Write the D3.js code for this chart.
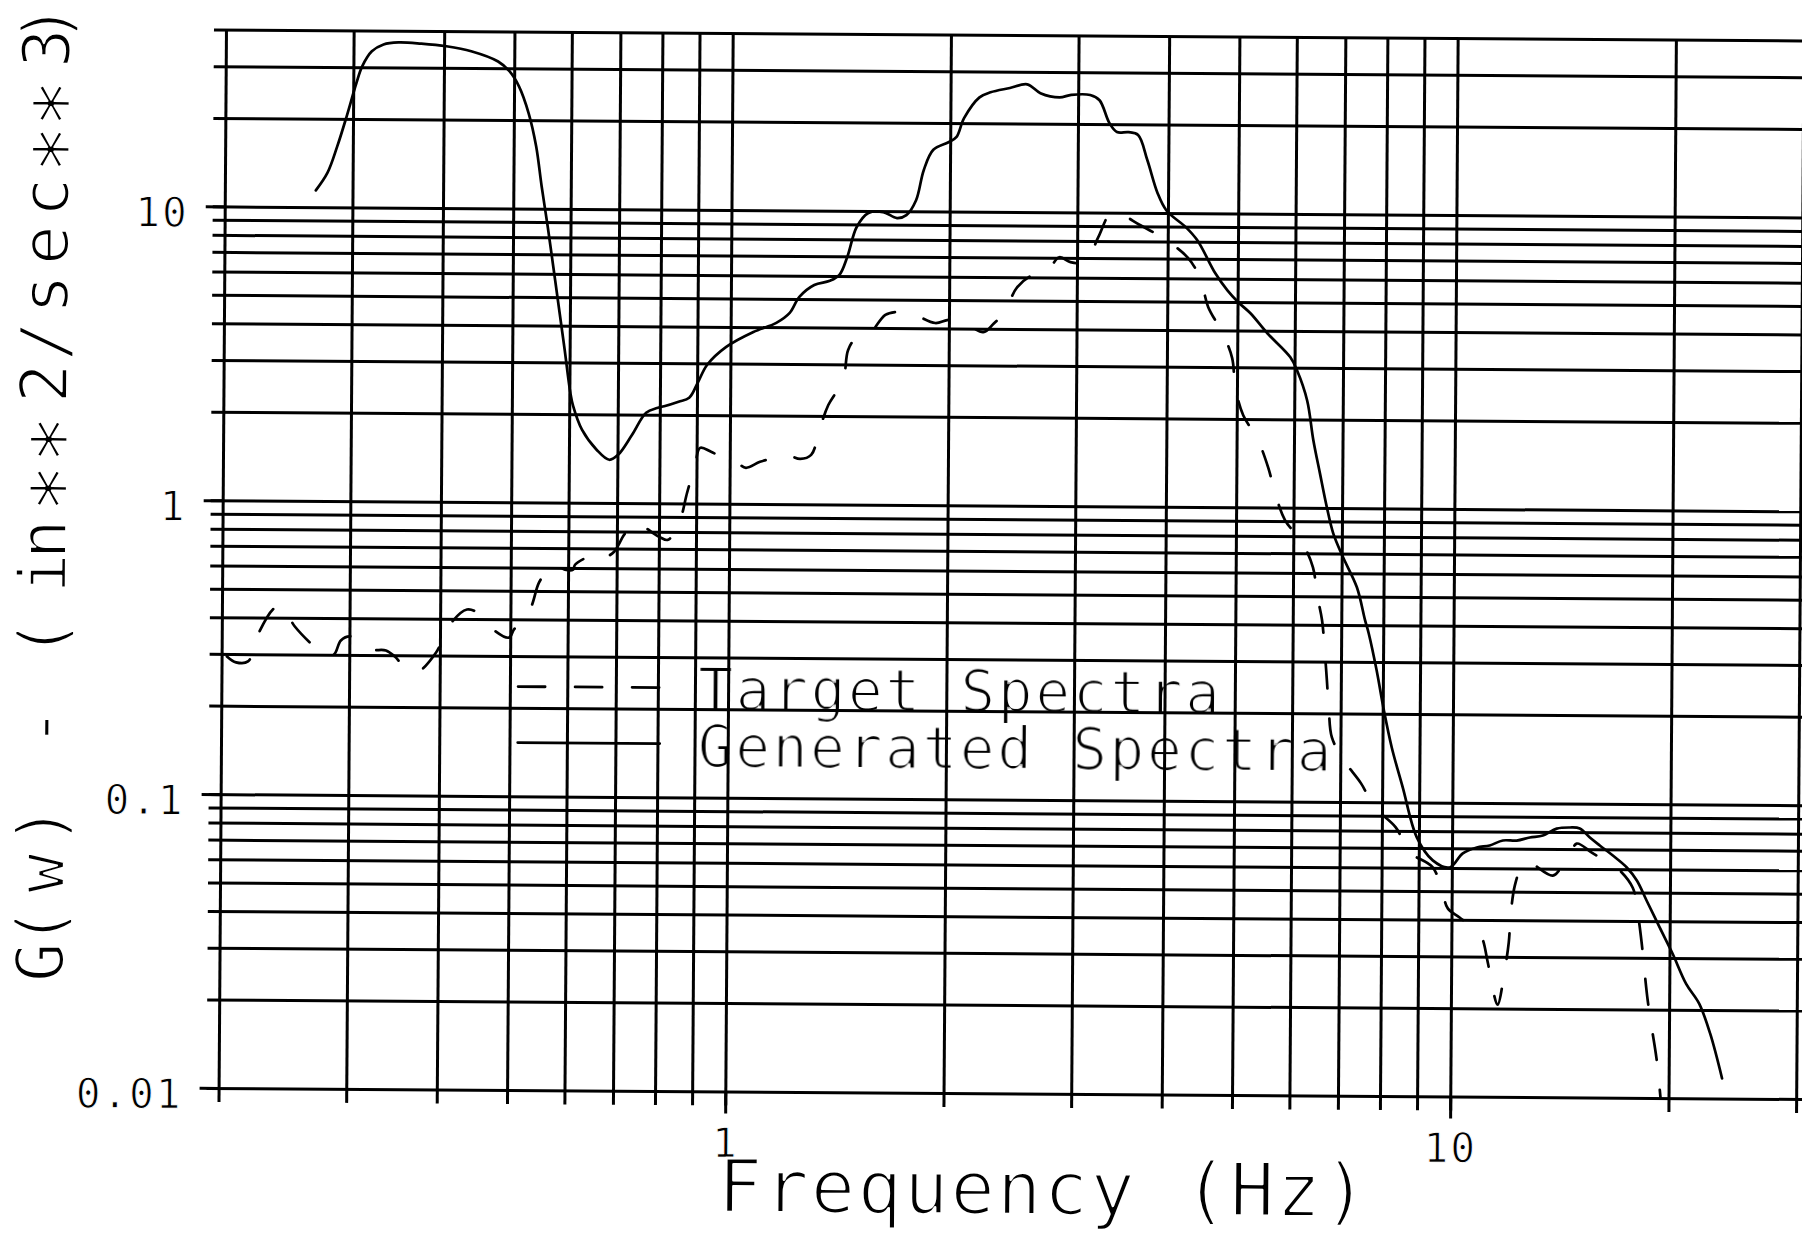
<!DOCTYPE html>
<html>
<head>
<meta charset="utf-8">
<script src="https://cdn.jsdelivr.net/npm/d3@7"></script>
<style>
  html, body { margin:0; padding:0; background:#ffffff; overflow:hidden; }
  svg { display:block; }
  .lbl { font-family: "DejaVu Sans Mono", "Liberation Mono", monospace; fill:#000; }
</style>
</head>
<body>
<svg id="chart" width="1802" height="1233"></svg>
<script>
// ---------------- DATA ----------------
// Generated Spectra (solid line): frequency (Hz) and G(w) (in^2/sec^3)
const genFreq = [
  0.267,0.277,0.2855,0.294,0.303,0.3085,0.318,0.330,0.346,0.372,
  0.403,0.436,0.475,0.4925,0.508,0.524,0.537,0.547,0.558,0.5685,
  0.579,0.5905,0.602,0.6075,0.625,0.655,0.682,0.7015,0.733,0.766,
  0.793,0.811,0.849,0.878,0.902,0.929,0.9865,1.075,1.156,1.206,
  1.243,1.303,1.369,1.411,1.446,1.489,1.545,1.62,1.692,1.743,
  1.797,1.840,1.896,1.989,2.039,2.089,2.193,2.271,2.415,2.551,
  2.661,2.828,2.935,3.117,3.211,3.314,3.396,3.523,3.632,3.743,
  3.868,3.981,4.235,4.394,4.656,4.84,5.01,5.21,5.50,5.92,
  6.05,6.25,6.38,6.52,6.67,6.81,7.03,7.35,7.55,7.64,
  7.84,8.03,8.24,8.54,8.94,9.41,9.93,10.35,10.82,11.27,
  11.75,12.28,12.80,13.34,13.94,14.53,15.0,15.49,15.99,16.67,
  17.43,18.0,18.58,19.38,20.2,21.1,22.0,22.8,23.7
];
const genVal = [
  11.4,13.1,16.1,20.4,26.5,30.2,34.0,35.9,36.5,36.2,
  35.5,34.2,31.6,29.3,26.0,21.1,16.3,11.9,8.71,6.36,
  4.65,3.32,2.36,2.13,1.773,1.517,1.403,1.46,1.709,2.032,
  2.11,2.14,2.22,2.29,2.58,2.97,3.42,3.85,4.14,4.48,
  5.08,5.58,5.77,6.05,6.96,8.81,9.84,9.92,9.47,9.70,
  10.9,13.8,16.2,17.2,17.9,20.8,24.5,25.5,26.4,27.2,
  25.4,24.6,25.1,25.1,24.1,20.2,18.8,18.8,18.4,15.1,
  11.7,10.2,8.96,8.09,6.25,5.47,4.99,4.58,3.92,3.25,
  2.93,2.32,1.70,1.311,1.005,0.820,0.680,0.538,0.4155,0.375,
  0.281,0.2055,0.1537,0.1125,0.0761,0.0636,0.0602,0.0673,0.0705,0.0717,
  0.0746,0.0746,0.0765,0.0777,0.0821,0.0829,0.0823,0.0767,0.0721,0.0667,
  0.0608,0.0549,0.0469,0.0380,0.0310,0.0245,0.0210,0.0166,0.0117
];
// Target Spectra (dashed line)
const tgtFreq = [
  0.2034,0.2094,0.2175,0.2251,0.2351,0.2412,0.2522,0.269,0.2777,0.2858,
  0.292,0.3006,0.3102,0.3213,0.337,0.3467,0.3604,0.3733,0.3952,0.4127,
  0.4355,0.4522,0.47,0.498,0.5058,0.5319,0.5471,0.5629,0.5754,0.594,
  0.6095,0.6132,0.6391,0.6597,0.6745,0.6941,0.7162,0.7391,0.8003,0.8236,
  0.8552,0.874,0.896,0.910,0.9423,0.9856,1.024,1.053,1.101,1.155,
  1.200,1.251,1.295,1.331,1.366,1.431,1.453,1.490,1.548,1.634,
  1.692,1.757,1.915,1.989,2.073,2.231,2.303,2.384,2.483,2.604,
  2.722,2.836,2.938,3.08,3.208,3.332,3.418,3.666,3.944,4.258,
  4.439,4.556,4.765,4.921,4.973,5.103,5.337,5.53,5.657,5.843,
  6.17,6.39,6.48,6.585,6.65,6.696,6.743,6.81,7.08,7.48,
  7.82,8.36,8.745,9.41,9.72,9.88,10.26,10.94,11.23,11.41,
  11.6,11.85,12.0,12.07,12.22,12.45,12.73,13.78,14.18,14.54,
  14.86,15.59,16.25,16.88,17.77,18.07,18.30,18.49,18.68,18.93,
  19.23,19.50
];
const tgtVal = [
  0.2943,0.2811,0.2833,0.3558,0.4264,0.4404,0.3735,0.3174,0.298,0.3006,
  0.3355,0.3465,0.3332,0.3131,0.311,0.2966,0.2682,0.2642,0.3069,0.3824,
  0.4305,0.4175,0.3741,0.3462,0.3689,0.4318,0.5334,0.5909,0.6147,0.5916,
  0.5916,0.6152,0.6556,0.6771,0.656,0.6829,0.78,0.8576,0.7695,0.7517,
  0.88,1.088,1.355,1.548,1.502,1.423,1.379,1.327,1.392,1.437,
  1.471,1.427,1.474,1.82,2.18,2.657,3.36,3.69,3.78,4.43,
  4.54,4.54,4.17,4.27,4.27,3.89,4.15,4.56,5.55,6.10,
  6.25,7.03,6.77,6.77,8.24,9.95,9.96,9.07,8.20,7.08,
  6.01,4.79,3.94,3.22,2.563,2.058,1.72,1.371,1.119,0.906,
  0.763,0.6275,0.5043,0.4147,0.32,0.259,0.2048,0.166,0.1385,0.1158,
  0.096,0.0822,0.0676,0.0602,0.0491,0.0437,0.0407,0.036,0.0287,0.0234,
  0.0206,0.0269,0.0335,0.0421,0.0525,0.0599,0.0629,0.0568,0.061,0.0665,
  0.0731,0.0682,0.0641,0.0607,0.0519,0.0424,0.0338,0.0267,0.0215,0.0174,
  0.0137,0.0100
];
// Grid / tick values and labels
const xGridValues = [0.2,0.3,0.4,0.5,0.6,0.7,0.8,0.9,1,2,3,4,5,6,7,8,9,10,20,30];
const yGridValues = [0.01,0.02,0.03,0.04,0.05,0.06,0.07,0.08,0.09,
                     0.1,0.2,0.3,0.4,0.5,0.6,0.7,0.8,0.9,
                     1,2,3,4,5,6,7,8,9,10,20,30,40];
const xLabelValues = [1, 10];
const xLabelTexts  = ["1", "10"];
const yLabelValues = [0.01, 0.1, 1, 10];
const yLabelTexts  = ["0.01", "0.1", "1", "10"];
const seriesNames  = ["Target Spectra", "Generated Spectra"];
const xTitle = "Frequency (Hz)";
const yTitle = "G(w) - (in**2/sec**3)";
// plotter-style character centres along the rotated y title (layout only)
const yTitlePos = [19,55,108,156,205,254,300,343,408,442,493,542,598,640,687,736,784,832,878,933,958];

// ---------------- LAYOUT ----------------
const W = 1802, H = 1233;
const svg = d3.select("#chart");
svg.append("rect").attr("width", W).attr("height", H).attr("fill", "#fff");

const defs = svg.append("defs");
defs.append("filter").attr("id", "thin1")
  .attr("x", "-10%").attr("y", "-30%").attr("width", "120%").attr("height", "160%")
  .append("feMorphology").attr("operator", "erode").attr("radius", 1);

const g = svg.append("g").attr("transform", "rotate(0.4,1010,560)");

const x = d3.scaleLog().domain([0.2, 30]).range([222.3, 1799.9]);
const y = d3.scaleLog().domain([0.01, 40]).range([1093.5, 35]);
const plotL = x.range()[0], plotR = x.range()[1];
const plotT = y.range()[1], plotB = y.range()[0];
const GRID_W = 3;

// thin "plotter pen" look for text on white background: white outline over the fill
function penText(sel, w) {
  sel.attr("stroke", "#fff").attr("stroke-width", w).attr("paint-order", "fill")
     .attr("stroke-linejoin", "round");
}

// horizontal grid lines (minor extension 12px to the left)
const minorExt = 12, majorExt = 19;
const gy = g.append("g").attr("transform", `translate(${plotL - minorExt},0)`)
  .call(d3.axisLeft(y).tickValues(yGridValues).tickFormat("")
        .tickSizeInner(-(1812 - (plotL - minorExt))).tickSizeOuter(0));
gy.select(".domain").remove();
gy.selectAll("line").attr("stroke", "#000").attr("stroke-width", GRID_W);

// labelled horizontal lines get a longer tick
const gyM = g.append("g").attr("transform", `translate(${plotL - majorExt},0)`)
  .call(d3.axisLeft(y).tickValues(yLabelValues)
        .tickFormat(d => yLabelTexts[yLabelValues.indexOf(d)])
        .tickSizeInner(-majorExt).tickSizeOuter(0).tickPadding(17));
gyM.select(".domain").remove();
gyM.selectAll("line").attr("stroke", "#000").attr("stroke-width", GRID_W);
gyM.selectAll("text").attr("class", "lbl").attr("dy", 20)
  .attr("font-size", 41).attr("letter-spacing", 2).attr("fill", "#000").call(penText, 1.0);

// vertical grid lines (extend 14px below the bottom)
const vMinor = 14, vMajor = 22;
const gx = g.append("g").attr("transform", `translate(0,${plotB + vMinor})`)
  .call(d3.axisBottom(x).tickValues(xGridValues).tickFormat("")
        .tickSizeInner(-(plotB + vMinor - plotT)).tickSizeOuter(0));
gx.select(".domain").remove();
gx.selectAll("line").attr("stroke", "#000").attr("stroke-width", GRID_W);

const gxM = g.append("g").attr("transform", `translate(0,${plotB + vMajor})`)
  .call(d3.axisBottom(x).tickValues(xLabelValues)
        .tickFormat(d => xLabelTexts[xLabelValues.indexOf(d)])
        .tickSizeInner(-vMajor).tickSizeOuter(0));
gxM.select(".domain").remove();
gxM.selectAll("line").attr("stroke", "#000").attr("stroke-width", GRID_W);
gxM.selectAll("text").attr("class", "lbl").attr("y", 1159 - (plotB + vMajor)).attr("dy", 0)
  .attr("font-size", 41).attr("letter-spacing", 2).attr("fill", "#000").call(penText, 1.0);

// ---------------- CURVES ----------------
const genData = genFreq.map((f, i) => [f, genVal[i]]);
const tgtData = tgtFreq.map((f, i) => [f, tgtVal[i]]);
const line = d3.line().x(d => x(d[0])).y(d => y(d[1])).curve(d3.curveCatmullRom.alpha(0.5));

g.append("path").datum(genData).attr("d", line)
  .attr("fill", "none").attr("stroke", "#000").attr("stroke-width", 2.7)
  .attr("stroke-linecap", "round").attr("stroke-linejoin", "round");

g.append("path").datum(tgtData).attr("d", line)
  .attr("fill", "none").attr("stroke", "#000").attr("stroke-width", 2.7)
  .attr("stroke-dasharray", "26,30").attr("stroke-linecap", "round").attr("stroke-linejoin", "round");

// ---------------- LEGEND ----------------
const legX1 = 519, legX2 = 661, legTextX = 699;
const legRows = [
  { name: seriesNames[0], lineY: 690, textY: 712, dash: "27,30", len: 522 },
  { name: seriesNames[1], lineY: 746, textY: 769, dash: null, len: 634 }
];
legRows.forEach(r => {
  const p = g.append("line").attr("x1", legX1).attr("x2", legX2)
    .attr("y1", r.lineY).attr("y2", r.lineY)
    .attr("stroke", "#000").attr("stroke-width", 2.8).attr("stroke-linecap", "round");
  if (r.dash) p.attr("stroke-dasharray", r.dash);
  g.append("text").attr("class", "lbl").attr("x", legTextX).attr("y", r.textY)
    .attr("font-size", 58).attr("textLength", r.len).attr("lengthAdjust", "spacing")
    .attr("filter", "url(#thin1)").text(r.name);
});

// ---------------- AXIS TITLES ----------------
g.append("text").attr("class", "lbl").attr("x", 722).attr("y", 1214)
  .attr("font-size", 74).attr("textLength", 650).attr("lengthAdjust", "spacing")
  .call(penText, 2.6).text(xTitle);

const yt = g.append("text").attr("class", "lbl")
  .attr("transform", "translate(66,988) rotate(-90)")
  .attr("font-size", 66).attr("text-anchor", "middle");
yt.selectAll("tspan").data(yTitle.split("")).join("tspan")
  .attr("x", (c, i) => yTitlePos[i])
  .attr("y", c => c === "*" ? 24 : 0)
  .attr("font-size", c => c === "*" ? 82 : 66)
  .text(c => c);
yt.call(penText, 2.1);
</script>
</body>
</html>
